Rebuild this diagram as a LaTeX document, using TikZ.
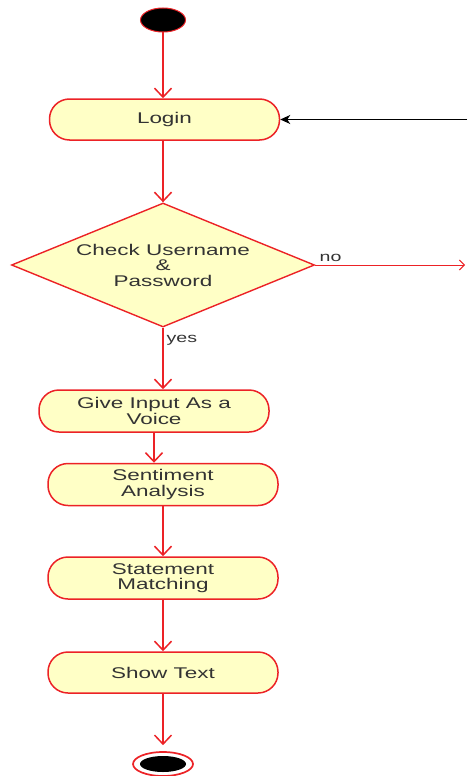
\documentclass[tikz,border=0pt]{standalone}
\usepackage{fontspec}
\newfontfamily\diagfont[FakeStretch=1.45]{Liberation Sans}
\usetikzlibrary{arrows.meta,shapes.geometric}
\definecolor{umlred}{HTML}{EC2226}
\definecolor{umlfill}{HTML}{FFFFC6}
\definecolor{umltext}{HTML}{333333}
\begin{document}
\begin{tikzpicture}[x=1pt,y=-1pt,
  activity/.style={draw=umlred, line width=1.5pt, fill=umlfill,
    rounded corners=20pt, minimum width=230pt, minimum height=41pt,
    inner sep=0pt, align=center, text=umltext,
    font=\diagfont\fontsize{15.5}{15.5}\selectfont},
  decision/.style={diamond, draw=umlred, line width=1.4pt, fill=umlfill,
    aspect=2.44, minimum width=303pt, minimum height=124pt, inner sep=0pt,
    align=center, text=umltext, font=\diagfont\fontsize{15.5}{15.5}\selectfont},
  startdot/.style={ellipse, draw=umlred, line width=1pt, fill=black,
    minimum width=45pt, minimum height=24pt, inner sep=0pt},
  endring/.style={ellipse, draw=umlred, line width=1.7pt, fill=white,
    minimum width=60pt, minimum height=24pt, inner sep=0pt},
  enddot/.style={ellipse, fill=black, minimum width=46pt,
    minimum height=16pt, inner sep=0pt},
  flow/.style={draw=umlred, line width=1.8pt,
    -{Straight Barb[length=9pt,width=17pt,line width=1.5pt]}},
  failflow/.style={draw=umlred, line width=0.9pt,
    -{Straight Barb[length=5pt,width=10pt,line width=0.9pt]}},
  retry/.style={draw=black, line width=1.2pt,
    -{Stealth[length=10pt,width=9pt,inset=3pt]}},
  lbl/.style={text=umltext, inner sep=1.5pt,
    font=\diagfont\fontsize{13.5}{14}\selectfont}
]
\useasboundingbox (0,0) rectangle (467,776);

% activity nodes
\node[startdot] (start) at (163,20) {};
\node[activity] (login) at (164.5,119.5) {Login};
\node[decision] (check) at (163,265) {Check Username\\\&\\Password};
\node[activity, minimum height=42pt] (voice) at (154,411) {Give Input As a\\Voice};
\node[activity, minimum height=42pt] (senti) at (163,484.5) {Sentiment\\Analysis};
\node[activity, minimum height=42pt] (match) at (163,578) {Statement\\Matching};
\node[activity] (show) at (163,672.5) {Show Text};
\node[endring] (end) at (163,764) {};
\node[enddot] (enddot) at (end.center) {};

% guard labels
\node[lbl, anchor=west] (yes) at (165,340) {yes};
\node[lbl, anchor=south west] (no) at (318,263) {no};

% loose ends of the two side connectors
\coordinate (retry) at (467,119.5);
\coordinate (failend) at (465,265);

% control flow
\draw[flow] (start) -- (start |- login.north);
\draw[flow] (check.north |- login.south) -- (check.north);
\draw[flow] (check.south) -- (check.south |- voice.north);
\draw[flow] (voice.south) -- (voice.south |- senti.north);
\draw[flow] (senti) -- (match);
\draw[flow] (match) -- (show);
\draw[flow, shorten >=6pt] (show) -- (end);
\draw[failflow] (check.east) -- (failend);
\draw[retry] (retry) -- (login.east);
\end{tikzpicture}
\end{document}
